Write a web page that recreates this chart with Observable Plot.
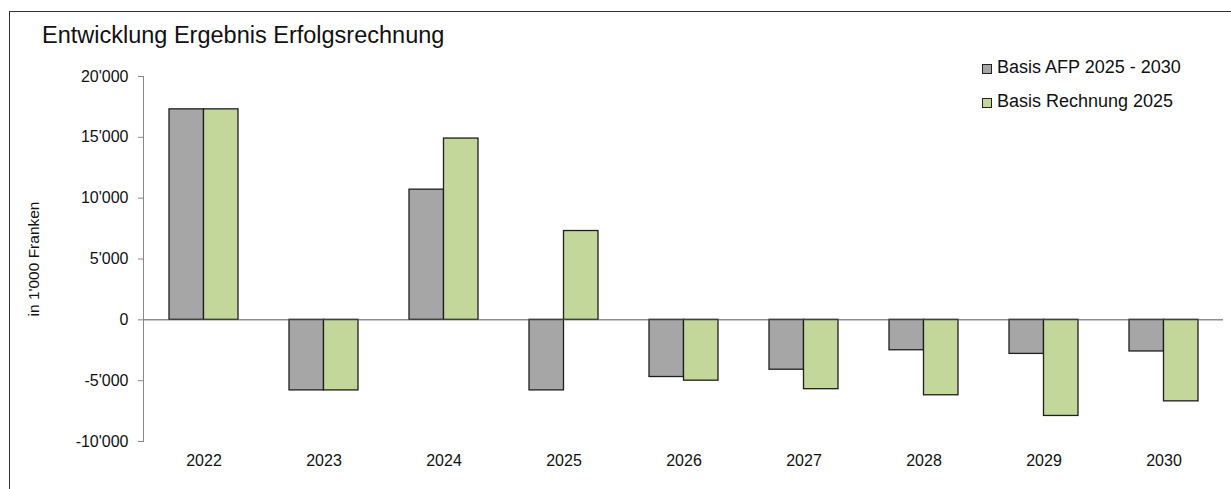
<!DOCTYPE html>
<html>
<head>
<meta charset="utf-8">
<script src="https://cdn.jsdelivr.net/npm/d3@7"></script>
<script src="https://cdn.jsdelivr.net/npm/@observablehq/plot@0.6"></script>
<style>
  html, body { margin: 0; padding: 0; background: #fff; }
  #wrap { position: relative; width: 1231px; height: 489px; overflow: hidden; font-family: "Liberation Sans", Arial, sans-serif; }
  #frame { position: absolute; left: 9px; top: 11px; width: 1240px; height: 500px; border-left: 1px solid #333; border-top: 1px solid #333; box-sizing: border-box; }
  #chart { position: absolute; left: 0; top: 0; }
  #title { position: absolute; left: 42px; top: 22px; font-size: 23.5px; color: #111; white-space: nowrap; }
  #legend { position: absolute; left: 982px; top: 50px; font-size: 18px; color: #111; }
  .item { display: flex; align-items: center; height: 34px; white-space: nowrap; }
  .sw { width: 8px; height: 8px; border: 1px solid #222; margin-right: 5px; margin-top: 4px; }
</style>
</head>
<body>
<div id="wrap">
  <div id="frame"></div>
  <div id="chart"></div>
  <div id="title"></div>
  <div id="legend"></div>
</div>
<script>
const titleText = "Entwicklung Ergebnis Erfolgsrechnung";
const yLabel = "in 1'000 Franken";
const years = ["2022", "2023", "2024", "2025", "2026", "2027", "2028", "2029", "2030"];
const seriesNames = ["Basis AFP 2025 - 2030", "Basis Rechnung 2025"];
const seriesColors = ["#a6a6a6", "#c4d79b"];
const afp = [17300, -5800, 10700, -5800, -4700, -4100, -2500, -2800, -2600];
const rechnung = [17300, -5800, 14900, 7300, -5000, -5700, -6200, -7900, -6700];
const yTicks = [-10000, -5000, 0, 5000, 10000, 15000, 20000];

const loc = d3.formatLocale({decimal: ".", thousands: "'", grouping: [3], currency: ["", ""], minus: "-"});
const fmt = loc.format(",d");

const rowsA = years.map((y, i) => ({year: y, value: afp[i]}));
const rowsR = years.map((y, i) => ({year: y, value: rechnung[i]}));

const half = 34.5;
const plot = Plot.plot({
  width: 1231,
  height: 489,
  marginLeft: 143,
  marginRight: 8,
  marginTop: 76,
  marginBottom: 48,
  style: {fontFamily: "'Liberation Sans', Arial, sans-serif", color: "#111", background: "transparent"},
  x: {domain: years, paddingInner: 0.425, paddingOuter: 0.2125, align: 0.5},
  y: {domain: [-10000, 20000]},
  marks: [
    Plot.barY(rowsA, {x: "year", y: "value", fill: seriesColors[0], stroke: "#1e1e1e", strokeWidth: 1.3, insetRight: half}),
    Plot.barY(rowsR, {x: "year", y: "value", fill: seriesColors[1], stroke: "#1e1e1e", strokeWidth: 1.3, insetLeft: half}),
    Plot.ruleY([0], {stroke: "#555", strokeWidth: 1}),
    Plot.frame({anchor: "left", stroke: "#888"}),
    Plot.axisY({ticks: yTicks, tickFormat: fmt, tickSize: 5, tickPadding: 10, fontSize: 16, stroke: "#888",
      label: null}),
    Plot.axisY({ticks: [], tickSize: 0, fontSize: 15.5,
      label: yLabel, labelAnchor: "center", labelArrow: "none", labelOffset: 116}),
    Plot.axisX({tickSize: 0, tickPadding: 13, fontSize: 16, label: null})
  ]
});
document.getElementById("chart").appendChild(plot);
document.getElementById("title").textContent = titleText;
const leg = document.getElementById("legend");
seriesNames.forEach((n, i) => {
  const it = document.createElement("div");
  it.className = "item";
  const sw = document.createElement("div");
  sw.className = "sw";
  sw.style.background = seriesColors[i];
  const t = document.createElement("span");
  t.textContent = n;
  it.appendChild(sw); it.appendChild(t);
  leg.appendChild(it);
});
</script>
</body>
</html>
